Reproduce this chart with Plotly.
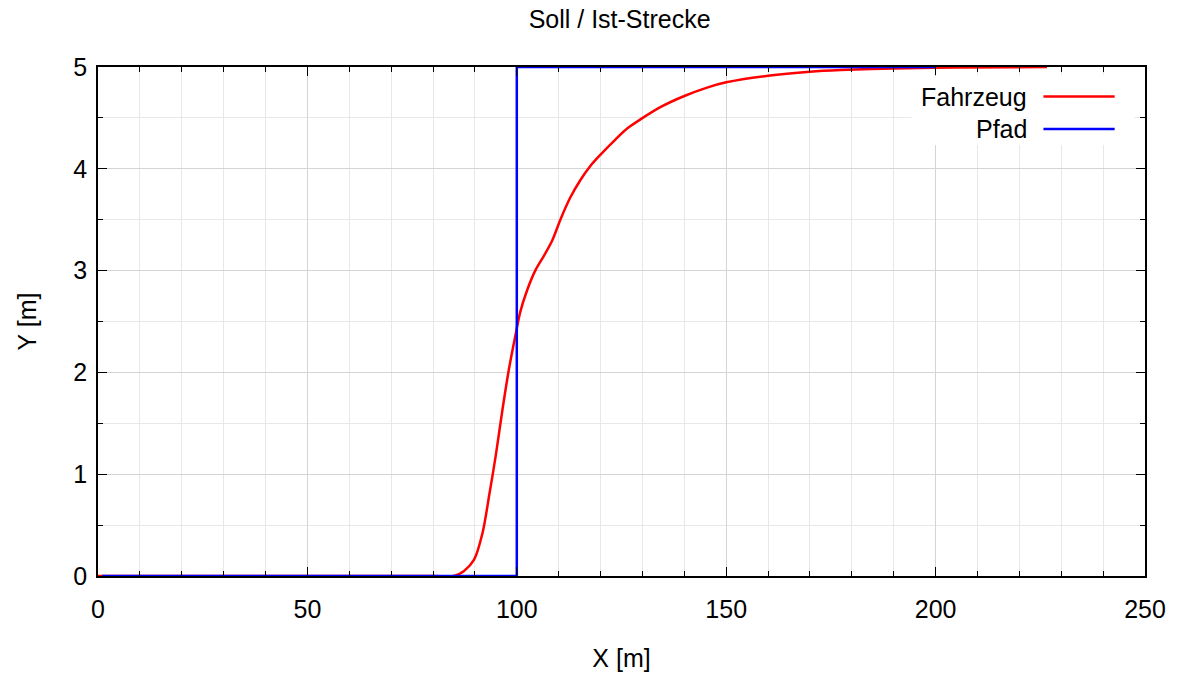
import plotly.graph_objects as go

# Ist-Strecke (Fahrzeug)
fahrzeug_x = [0, 20, 50, 80, 85, 87.4, 89.8, 91.8, 93.4, 95.0, 96.6, 98.2, 99.8, 100.8,
              102.4, 104.4, 106.4, 108.4, 110.4, 112.8, 115.2, 117.6, 120, 123.6, 126.5,
              129.7, 134.5, 140, 145.6, 150, 160, 170, 177.3, 190, 205, 226.6]
fahrzeug_y = [0, 0, 0, 0, 0, 0.05, 0.16, 0.42, 0.79, 1.19, 1.64, 2.05, 2.39, 2.59,
              2.80, 3.00, 3.14, 3.29, 3.50, 3.72, 3.89, 4.03, 4.14, 4.29, 4.40,
              4.49, 4.61, 4.715, 4.80, 4.85, 4.915, 4.954, 4.97, 4.985, 4.995, 5.0]

# Soll-Strecke (Pfad)
pfad_x = [1, 100, 100, 200]
pfad_y = [0, 0, 5, 5]

serien = ["Fahrzeug", "Pfad"]
farben = ["#ff0000", "#0000ff"]

FONT = "Liberation Sans, Arial, sans-serif"
FS = 25

fig = go.Figure()
fig.add_trace(go.Scatter(x=fahrzeug_x, y=fahrzeug_y, mode="lines", name=serien[0],
                         line=dict(color=farben[0], width=2.5, shape="spline", smoothing=0.9,
                                   simplify=False)))
fig.add_trace(go.Scatter(x=pfad_x, y=pfad_y, mode="lines", name=serien[1],
                         line=dict(color=farben[1], width=2.5)))

achse = dict(
    showline=True, linecolor="black", linewidth=1.5, mirror="allticks",
    ticks="inside", ticklen=9, tickwidth=1.3, tickcolor="black",
    showgrid=True, gridcolor="#d4d4d4", gridwidth=1,
    zeroline=False,
    tickfont=dict(family=FONT, size=FS, color="black"),
)

fig.update_xaxes(**achse, range=[0, 250], dtick=50, ticklabelstandoff=10,
                 minor=dict(dtick=10, ticks="inside", ticklen=5, tickcolor="black",
                            showgrid=True, gridcolor="#e8e8e8", gridwidth=1),
                 title=dict(text="X [m]", font=dict(family=FONT, size=FS, color="black"), standoff=28))
fig.update_yaxes(**achse, range=[0, 5], dtick=1, ticklabelstandoff=4,
                 minor=dict(dtick=0.5, ticks="inside", ticklen=5, tickcolor="black",
                            showgrid=True, gridcolor="#e8e8e8", gridwidth=1),
                 title=dict(text="Y [m]", font=dict(family=FONT, size=FS, color="black"), standoff=30))

# Legende im gnuplot-Stil: Text rechtsbündig, Linie rechts daneben
legende = [dict(type="rect", xref="paper", yref="paper", x0=0.777, x1=0.99, y0=0.847, y1=0.984,
                fillcolor="white", line=dict(width=0), layer="above")]
annots = []
for i, (name, farbe) in enumerate(zip(serien, farben)):
    yy = 0.942 - i * 0.064
    legende.append(dict(type="line", xref="paper", yref="paper", x0=0.903, x1=0.971, y0=yy, y1=yy,
                        line=dict(color=farbe, width=2.5), layer="above"))
    annots.append(dict(xref="paper", yref="paper", x=0.889, y=yy, text=name, showarrow=False,
                       xanchor="right", yanchor="middle",
                       font=dict(family=FONT, size=FS, color="black")))

fig.update_layout(
    width=1178, height=680,
    margin=dict(l=98, r=33, t=67, b=102),
    paper_bgcolor="white", plot_bgcolor="white",
    showlegend=False,
    shapes=legende, annotations=annots,
    title=dict(text="Soll / Ist-Strecke", x=0.526, xanchor="center", y=0.972, yanchor="middle",
               font=dict(family=FONT, size=FS, color="black")),
)

fig.write_html("out.html")
